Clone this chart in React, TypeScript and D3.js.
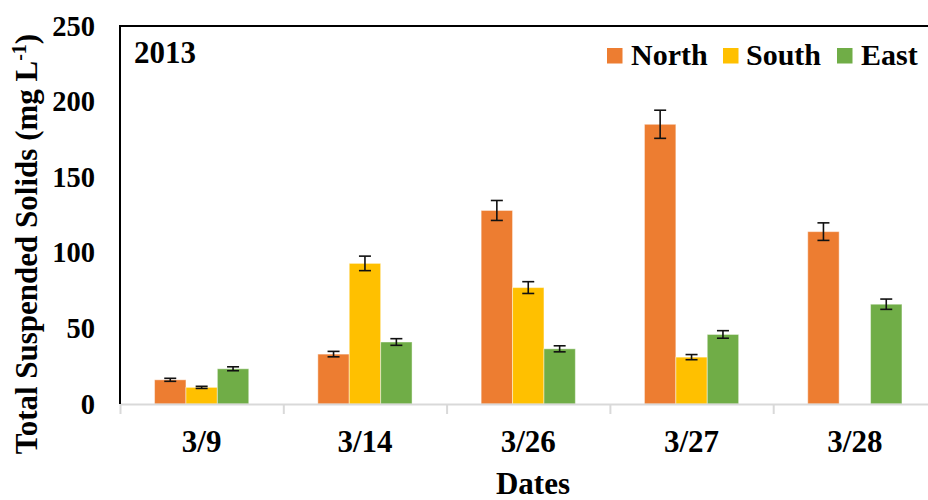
import React from "react";
import * as d3 from "d3";

// Sampling dates and site series
const dates = ["3/9", "3/14", "3/26", "3/27", "3/28"];
const seriesNames = ["North", "South", "East"];
const seriesColors = ["#ED7D31", "#FFC000", "#70AD47"];

// Mean total suspended solids (mg L-1); null = no sample
const northValues = [16, 33, 128, 185, 114];
const southValues: (number | null)[] = [11, 93, 77, 31, null];
const eastValues = [23.3, 41, 36.5, 46, 66];

// Standard error for each mean
const northErrors = [1, 1.8, 6.6, 9.3, 5.8];
const southErrors: (number | null)[] = [0.7, 4.8, 3.9, 1.7, null];
const eastErrors = [1.3, 2.2, 2, 2.5, 3.4];

const yTicks = [0, 50, 100, 150, 200, 250];

const W = 928;
const H = 500;
const plotLeft = 120;
const plotRight = 936.5;
const plotTop = 26;
const plotBottom = 404;
const gapWidth = 2.2;

const font = "'Liberation Serif', 'Times New Roman', Times, serif";

export default function App() {
  const values = [northValues, southValues, eastValues];
  const errors = [northErrors, southErrors, eastErrors];

  const x0 = d3.scaleBand<string>().domain(dates).range([plotLeft, plotRight]).padding(0);
  const x1 = d3
    .scaleBand<string>()
    .domain(seriesNames)
    .range([0, x0.bandwidth()])
    .paddingInner(0)
    .paddingOuter(gapWidth / 2);
  const y = d3.scaleLinear().domain([0, 250]).range([plotBottom, plotTop]);

  const tickXs = dates.map((d) => x0(d)!);

  const legendItems = [
    { name: "North", sq: 607, tx: 631 },
    { name: "South", sq: 723, tx: 746 },
    { name: "East", sq: 837, tx: 861 },
  ];

  return (
    <>
      <style>{`body{margin:0}`}</style>
      <svg width={W} height={H} style={{ display: "block", background: "#fff" }} fontFamily={font}>
        {/* bars */}
        {seriesNames.map((s, si) =>
          dates.map((d, di) => {
            const v = values[si][di];
            if (v == null) return null;
            const bx = x0(d)! + x1(s)!;
            return (
              <rect
                key={`${s}-${d}`}
                x={bx}
                y={y(v)}
                width={x1.bandwidth()}
                height={y(0) - y(v)}
                fill={seriesColors[si]}
                stroke="#ffffff"
                strokeOpacity={0.45}
                strokeWidth={1}
              />
            );
          })
        )}

        {/* error bars */}
        {seriesNames.map((s, si) =>
          dates.map((d, di) => {
            const v = values[si][di];
            const e = errors[si][di];
            if (v == null || e == null) return null;
            const cx = x0(d)! + x1(s)! + x1.bandwidth() / 2;
            const y1 = y(v + e);
            const y2 = y(v - e);
            return (
              <g key={`err-${s}-${d}`} stroke="#111" strokeWidth={1.6}>
                <line x1={cx} x2={cx} y1={y1} y2={y2} />
                <line x1={cx - 6} x2={cx + 6} y1={y1} y2={y1} />
                <line x1={cx - 6} x2={cx + 6} y1={y2} y2={y2} />
              </g>
            );
          })
        )}

        {/* x axis line and category ticks */}
        <line x1={plotLeft} x2={plotRight} y1={plotBottom + 0.5} y2={plotBottom + 0.5} stroke="#D9D9D9" strokeWidth={2} />
        {tickXs.map((tx, i) => (
          <line key={`xt-${i}`} x1={tx + 0.5} x2={tx + 0.5} y1={plotBottom} y2={plotBottom + 10} stroke="#D9D9D9" strokeWidth={2} />
        ))}

        {/* plot frame: top and left edges */}
        <line x1={plotLeft} x2={W + 10} y1={plotTop} y2={plotTop} stroke="#000" strokeWidth={2} />
        <line x1={plotLeft} x2={plotLeft} y1={plotTop - 1} y2={plotBottom} stroke="#000" strokeWidth={2} />

        {/* y tick labels */}
        {yTicks.map((t) => (
          <text
            key={`yt-${t}`}
            x={95}
            y={y(t)}
            dy="0.34em"
            textAnchor="end"
            fontSize={28.5}
            fontWeight="bold"
          >
            {t}
          </text>
        ))}

        {/* x tick labels */}
        {dates.map((d) => (
          <text
            key={`xl-${d}`}
            x={x0(d)! + x0.bandwidth() / 2}
            y={452}
            textAnchor="middle"
            fontSize={31}
            fontWeight="bold"
          >
            {d}
          </text>
        ))}

        {/* axis titles */}
        <text x={533} y={494} textAnchor="middle" fontSize={31} fontWeight="bold">
          Dates
        </text>
        <text
          transform="translate(37,244) rotate(-90)"
          textAnchor="middle"
          fontSize={31}
          fontWeight="bold"
        >
          Total Suspended Solids (mg L
          <tspan fontSize={20} dy={-11}>-1</tspan>
          <tspan dy={11}>)</tspan>
        </text>

        {/* year label */}
        <text x={134} y={63} fontSize={31} fontWeight="bold">
          2013
        </text>

        {/* legend */}
        {legendItems.map((it, i) => (
          <g key={`lg-${it.name}`}>
            <rect x={it.sq} y={48} width={15.5} height={15.5} fill={seriesColors[i]} />
            <text x={it.tx} y={65} fontSize={30} fontWeight="bold">
              {it.name}
            </text>
          </g>
        ))}
      </svg>
    </>
  );
}
